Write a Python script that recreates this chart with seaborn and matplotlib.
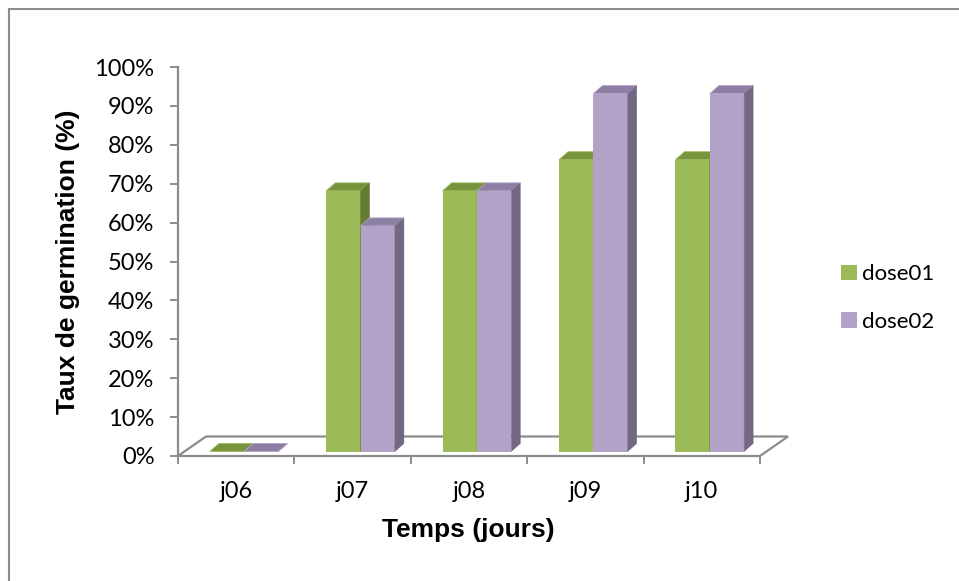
import numpy as np
import pandas as pd
import matplotlib
matplotlib.use('Agg')
import matplotlib.pyplot as plt
import seaborn as sns
from matplotlib.patches import Polygon, Rectangle, Patch

# Data
jours = ['j06', 'j07', 'j08', 'j09', 'j10']
dose01 = [0.0, 0.67, 0.67, 0.75, 0.75]
dose02 = [0.0, 0.58, 0.67, 0.92, 0.92]
doses = ['dose01', 'dose02']

df = pd.DataFrame({
    'jour': jours * 2,
    'dose': ['dose01'] * len(jours) + ['dose02'] * len(jours),
    'taux': dose01 + dose02,
})

front = ['#9bbb59', '#b3a2c7']
top = ['#77933c', '#8d7fa3']
side = ['#637b34', '#736883']
grey = '#8c8c8c'

W, H = 959, 581
fig = plt.figure(figsize=(W / 100, H / 100), dpi=100)
ax = fig.add_axes([178 / W, 1 - 456 / H, (760 - 178) / W, (456 - 67) / H])

sns.barplot(data=df, x='jour', y='taux', hue='dose', palette=front, width=0.59,
            saturation=1, legend=False, ax=ax, linewidth=0)

ax.set_xlim(-0.5, 4.5)
ax.set_ylim(0, 1)

# pixel -> data helpers for the fake 3D look
px_x = 5 / (760 - 178)
px_y = 1 / (456 - 67)
dx0, dy0 = 8 * px_x, 4.5 * px_y      # bar front plane behind the axis plane
bdx, bdy = 9 * px_x, 8 * px_y        # bar depth
fdx, fdy = 28 * px_x, 19.5 * px_y    # floor depth

# floor
floor = Polygon([(-0.5, 0), (4.5, 0), (4.5 + fdx, fdy), (-0.5 + fdx, fdy)], closed=True,
                facecolor='white', edgecolor=grey, linewidth=1.6, zorder=0.5, clip_on=False)
ax.add_patch(floor)

for i, cont in enumerate(ax.containers):
    for p in cont.patches:
        x = p.get_x() + dx0
        w = p.get_width()
        h = p.get_height() + dy0
        p.set_x(x)
        p.set_y(dy0)
        p.set_height(h - dy0)
        p.set_zorder(2 + i)
        p.set_clip_on(False)
        ax.add_patch(Polygon([(x, h), (x + w, h), (x + w + bdx, h + bdy), (x + bdx, h + bdy)],
                             closed=True, facecolor=top[i], edgecolor=front[i], linewidth=0.6,
                             zorder=2 + i, clip_on=False))
        if h > dy0:
            ax.add_patch(Polygon([(x + w, dy0), (x + w, h), (x + w + bdx, h + bdy), (x + w + bdx, dy0 + bdy)],
                                 closed=True, facecolor=side[i], edgecolor=side[i], linewidth=0.3,
                                 zorder=2 + i, clip_on=False))

for s in ['top', 'right', 'bottom']:
    ax.spines[s].set_visible(False)
ax.spines['left'].set_color(grey)
ax.spines['left'].set_linewidth(1.6)

yt = np.arange(0, 1.01, 0.1)
ax.set_yticks(yt)
ax.set_yticklabels([f'{int(round(t * 100))}%' for t in yt], fontfamily='Lato', fontsize=17)
ax.tick_params(axis='y', length=6, width=1.4, color=grey, pad=11)

ax.set_xticks(range(len(jours)))
ax.set_xticklabels(jours, fontfamily='Lato', fontsize=17)
ax.set_xticks(np.arange(-0.5, 4.6, 1), minor=True)
ax.tick_params(axis='x', which='major', length=0, pad=18)
ax.tick_params(axis='x', which='minor', length=6, width=1.4, color=grey, direction='out')

ax.set_xlabel('Temps (jours)', fontfamily='Liberation Sans', fontweight='bold', fontsize=19)
ax.set_ylabel('Taux de germination (%)', fontfamily='Liberation Sans', fontweight='bold', fontsize=19)
ax.xaxis.set_label_coords(0.499, -(530 - 456) / (456 - 67))
ax.xaxis.label.set_va('center')
ax.yaxis.set_label_coords((68 - 178) / (760 - 178), (456 - 262) / (456 - 67))
ax.yaxis.label.set_va('center')

handles = [Patch(facecolor=c, edgecolor='none') for c in front]
fig.legend(handles, doses, loc='center left', bbox_to_anchor=(821 / W, 1 - 298 / H), frameon=False,
           prop={'family': 'Lato', 'size': 16}, handlelength=0.7, handleheight=0.7,
           handletextpad=0.25, labelspacing=1.25)

fig.patches.append(Rectangle((9 / W, -0.05), 1.1, 1.05 - 9 / H, transform=fig.transFigure,
                             fill=False, edgecolor=grey, linewidth=1.5))

fig.savefig('out.png', dpi=100)
